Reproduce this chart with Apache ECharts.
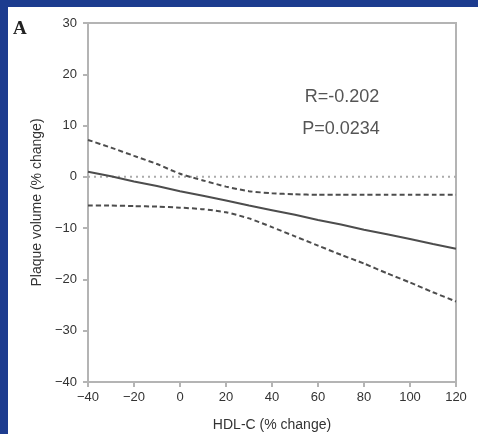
<!DOCTYPE html>
<html>
<head>
<meta charset="utf-8">
<script src="https://cdn.jsdelivr.net/npm/echarts@6/dist/echarts.min.js"></script>
<style>
html,body{margin:0;padding:0;background:#fff;}
#c{width:478px;height:434px;}
</style>
</head>
<body>
<div id="c"></div>
<script>
// ---- data ----
var xCats = [-40, -30, -20, -10, 0, 10, 20, 30, 40, 50, 60, 70, 80, 90, 100, 110, 120];
var fitLine = [1.0, 0.1, -0.9, -1.8, -2.8, -3.7, -4.6, -5.6, -6.5, -7.4, -8.4, -9.3, -10.3, -11.2, -12.1, -13.1, -14.0];
var upperCI = [7.2, 5.7, 4.1, 2.5, 0.6, -0.7, -1.9, -2.8, -3.2, -3.4, -3.5, -3.5, -3.5, -3.5, -3.5, -3.5, -3.5];
var lowerCI = [-5.6, -5.6, -5.7, -5.8, -6.0, -6.3, -6.9, -8.1, -9.8, -11.6, -13.4, -15.2, -16.9, -18.8, -20.6, -22.5, -24.3];
var zeroLine = [0, 0, 0, 0, 0, 0, 0, 0, 0, 0, 0, 0, 0, 0, 0, 0, 0];
var xTickLabels = {'-40':'\u221240','-20':'\u221220','0':'0','20':'20','40':'40','60':'60','80':'80','100':'100','120':'120'};
var yTickLabels = {'-40':'\u221240','-30':'\u221230','-20':'\u221220','-10':'\u221210','0':'0','10':'10','20':'20','30':'30'};
var statR = 'R=-0.202';
var statP = 'P=0.0234';
var panelLabel = 'A';
var xTitle = 'HDL-C (% change)';
var yTitle = 'Plaque volume (% change)';

function pairs(ys){ return xCats.map(function(x,i){ return [x, ys[i]]; }); }

var chart = echarts.init(document.getElementById('c'), null, {renderer:'canvas'});
var lineCol = '#4d4d4d';
var axisCol = '#b4b4b4';
var font = 'Liberation Sans, Arial, sans-serif';
chart.setOption({
  animation: false,
  backgroundColor: '#ffffff',
  graphic: [
    {type:'rect', left:0, top:0, shape:{width:478, height:7}, style:{fill:'#1d3c8f'}, z:-10},
    {type:'rect', left:0, top:0, shape:{width:8, height:434}, style:{fill:'#1d3c8f'}, z:-10},
    {type:'text', left:13, top:20, style:{text:panelLabel, font:'bold 19px "Liberation Serif", serif', fill:'#222'}},
    {type:'text', x:342, y:97, style:{text:statR, font:'18px "Liberation Sans", Arial, sans-serif', fill:'#555', align:'center', verticalAlign:'middle'}},
    {type:'text', x:341, y:129, style:{text:statP, font:'18px "Liberation Sans", Arial, sans-serif', fill:'#555', align:'center', verticalAlign:'middle'}}
  ],
  grid: {left:88, top:23, right:22, bottom:52, show:true, borderColor:axisCol, borderWidth:2, backgroundColor:'transparent', containLabel:false, outerBoundsMode:'none'},
  xAxis: {
    type:'value', min:-40, max:120, interval:20,
    name: xTitle, nameLocation:'middle', nameGap:36,
    nameTextStyle:{fontFamily:font, fontSize:14, color:'#333'},
    axisLine:{show:true, onZero:false, lineStyle:{color:axisCol, width:2}},
    axisTick:{show:true, length:5, lineStyle:{color:axisCol, width:2}},
    axisLabel:{margin:9, fontFamily:font, fontSize:13, color:'#333',
      formatter:function(v){ return xTickLabels[String(v)]; }},
    splitLine:{show:false}
  },
  yAxis: {
    type:'value', min:-40, max:30, interval:10,
    name: yTitle, nameLocation:'middle', nameGap:44, nameRotate:90,
    nameTextStyle:{fontFamily:font, fontSize:14, color:'#333'},
    axisLine:{show:true, onZero:false, lineStyle:{color:axisCol, width:2}},
    axisTick:{show:true, length:5, lineStyle:{color:axisCol, width:2}},
    axisLabel:{margin:11, fontFamily:font, fontSize:13, color:'#333',
      formatter:function(v){ return yTickLabels[String(v)]; }},
    splitLine:{show:false}
  },
  series: [
    {type:'line', data:pairs(zeroLine), showSymbol:false, silent:true,
      lineStyle:{color:'#ababab', width:2, type:[2,4]}},
    {type:'line', data:pairs(upperCI), showSymbol:false, smooth:0.2,
      lineStyle:{color:lineCol, width:2, type:[5,3]}},
    {type:'line', data:pairs(lowerCI), showSymbol:false, smooth:0.2,
      lineStyle:{color:lineCol, width:2, type:[5,3]}},
    {type:'line', data:pairs(fitLine), showSymbol:false,
      lineStyle:{color:lineCol, width:2}}
  ]
});
</script>
</body>
</html>
